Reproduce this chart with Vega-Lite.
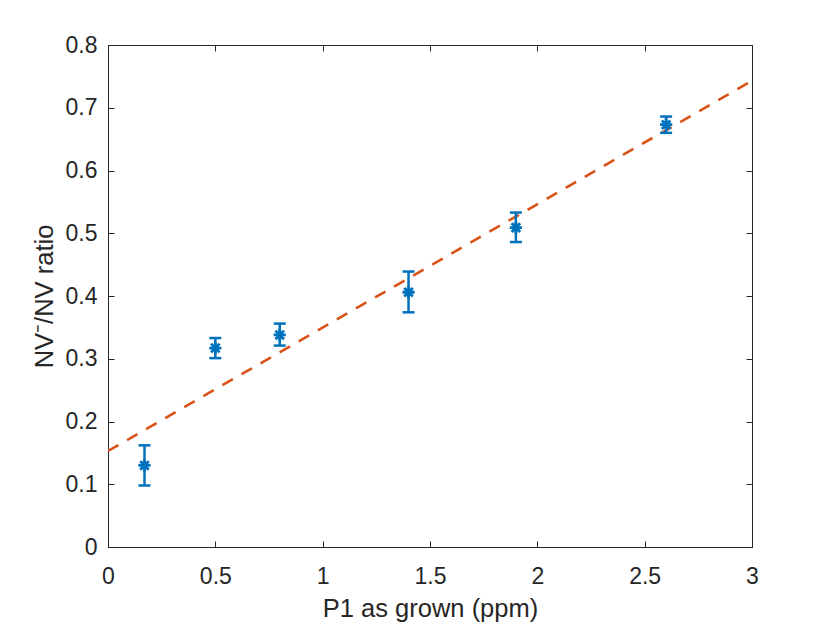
{
  "$schema": "https://vega.github.io/schema/vega-lite/v6.json",
  "width": 644,
  "height": 502,
  "autosize": {"type": "none"},
  "padding": {"left": 108, "top": 45, "right": 78, "bottom": 76},
  "background": "white",
  "datasets": {
    "pts": [
      {"x": 0.17, "y": 0.130, "lo": 0.098, "hi": 0.162},
      {"x": 0.5, "y": 0.317, "lo": 0.301, "hi": 0.333},
      {"x": 0.8, "y": 0.338, "lo": 0.321, "hi": 0.356},
      {"x": 1.4, "y": 0.406, "lo": 0.374, "hi": 0.439},
      {"x": 1.9, "y": 0.509, "lo": 0.486, "hi": 0.533},
      {"x": 2.6, "y": 0.673, "lo": 0.660, "hi": 0.686}
    ],
    "fit": [
      {"x": 0, "y": 0.153},
      {"x": 3, "y": 0.743}
    ]
  },
  "layer": [
    {
      "data": {"name": "fit"},
      "mark": {"type": "line", "color": "#D95319", "strokeWidth": 2.6, "strokeDash": [12, 10], "clip": true},
      "encoding": {
        "x": {
          "field": "x", "type": "quantitative",
          "scale": {"domain": [0, 3]},
          "title": "P1 as grown (ppm)",
          "axis": {
            "orient": "bottom", "values": [0, 0.5, 1, 1.5, 2, 2.5, 3], "format": "~g",
            "labelPadding": 24, "titlePadding": 8, "labelFlush": false
          }
        },
        "y": {
          "field": "y", "type": "quantitative",
          "scale": {"domain": [0, 0.8]},
          "title": "NV⁻/NV ratio",
          "axis": {
            "orient": "left", "values": [0, 0.1, 0.2, 0.3, 0.4, 0.5, 0.6, 0.7, 0.8], "format": "~g",
            "labelPadding": 17, "titlePadding": 8, "labelFlush": false
          }
        }
      }
    },
    {
      "data": {"name": "pts"},
      "mark": {"type": "rule", "color": "#0072BD", "strokeWidth": 2.5},
      "encoding": {
        "x": {"field": "x", "type": "quantitative", "axis": null},
        "y": {"field": "lo", "type": "quantitative", "axis": null},
        "y2": {"field": "hi"}
      }
    },
    {
      "data": {"name": "pts"},
      "mark": {"type": "tick", "orient": "horizontal", "color": "#0072BD", "size": 12, "thickness": 2.5, "opacity": 1},
      "encoding": {
        "x": {"field": "x", "type": "quantitative", "axis": null},
        "y": {"field": "lo", "type": "quantitative", "axis": null}
      }
    },
    {
      "data": {"name": "pts"},
      "mark": {"type": "tick", "orient": "horizontal", "color": "#0072BD", "size": 12, "thickness": 2.5, "opacity": 1},
      "encoding": {
        "x": {"field": "x", "type": "quantitative", "axis": null},
        "y": {"field": "hi", "type": "quantitative", "axis": null}
      }
    },
    {
      "data": {"name": "pts"},
      "mark": {
        "type": "point",
        "shape": "M-1,0L1,0M0,-1L0,1M-0.7,-0.7L0.7,0.7M-0.7,0.7L0.7,-0.7",
        "filled": false,
        "color": "#0072BD",
        "strokeWidth": 2.8,
        "size": 150,
        "opacity": 1
      },
      "encoding": {
        "x": {
          "field": "x", "type": "quantitative",
          "axis": {"orient": "top", "values": [0, 0.5, 1, 1.5, 2, 2.5, 3], "labels": false, "title": null}
        },
        "y": {
          "field": "y", "type": "quantitative",
          "axis": {"orient": "right", "values": [0, 0.1, 0.2, 0.3, 0.4, 0.5, 0.6, 0.7, 0.8], "labels": false, "title": null}
        }
      }
    }
  ],
  "resolve": {"axis": {"x": "independent", "y": "independent"}},
  "config": {
    "view": {"stroke": null},
    "font": "Liberation Sans",
    "axis": {
      "grid": false,
      "domainColor": "#262626",
      "domainWidth": 1,
      "tickColor": "#262626",
      "tickWidth": 1,
      "tickSize": -6,
      "labelColor": "#262626",
      "labelFont": "Liberation Sans",
      "labelFontSize": 23,
      "titleColor": "#262626",
      "titleFont": "Liberation Sans",
      "titleFontSize": 25.5,
      "titleFontWeight": "normal"
    }
  }
}
